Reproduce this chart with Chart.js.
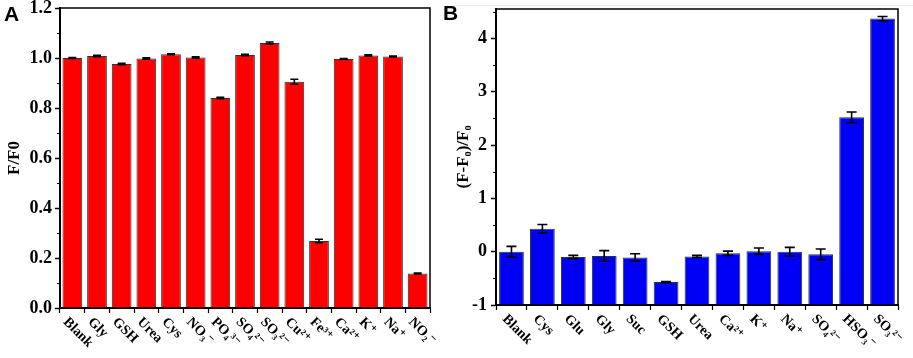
<!DOCTYPE html>
<html lang="en">
<head>
  <meta charset="UTF-8">
  <script src="https://cdn.jsdelivr.net/npm/chart.js"></script>
  <title>Selectivity</title>
  <style>
    body { margin: 0; background: #fff; }
    .wrap { position: relative; width: 913px; height: 358px; overflow: hidden; }
    .panel { position: absolute; top: 0; height: 358px; }
    .tag { position: absolute; font: bold 21px "Liberation Sans", Arial, sans-serif; color: #000; }
    .rule { position: absolute; left: 453px; top: 5px; width: 460px; height: 0; border-top: 1px solid #ececec; }
  </style>
</head>
<body>
  <div class="wrap">
    <div class="rule"></div>
    <div class="panel" style="left: 0; width: 453px;"><canvas id="chartA"></canvas></div>
    <div class="panel" style="left: 453px; width: 460px;"><canvas id="chartB"></canvas></div>
    <div class="tag" style="left: 4px; top: 2px;">A</div>
    <div class="tag" style="left: 443px; top: 1px;">B</div>
  </div>
  <script>
    // panel A: F/F0
    const labelsA = ['Blank', 'Gly', 'GSH', 'Urea', 'Cys', 'NO₃⁻', 'PO₄³⁻', 'SO₄²⁻', 'SO₃²⁻', 'Cu²⁺', 'Fe³⁺', 'Ca²⁺', 'K⁺', 'Na⁺', 'NO₂⁻'];
    const valuesA = [1.000, 1.008, 0.976, 0.998, 1.015, 1.002, 0.840, 1.012, 1.060, 0.905, 0.268, 0.996, 1.010, 1.006, 0.138];
    const errorsA = [0.002, 0.003, 0.003, 0.003, 0.002, 0.003, 0.003, 0.003, 0.004, 0.010, 0.007, 0.002, 0.003, 0.002, 0.002];

    // panel B: (F-F0)/F0
    const labelsB = ['Blank', 'Cys', 'Glu', 'Gly', 'Suc', 'GSH', 'Urea', 'Ca²⁺', 'K⁺', 'Na⁺', 'SO₄²⁻', 'HSO₃⁻', 'SO₃²⁻'];
    const valuesB = [0.00, 0.43, -0.10, -0.08, -0.11, -0.57, -0.09, -0.03, 0.01, 0.00, -0.05, 2.52, 4.37];
    const errorsB = [0.10, 0.08, 0.03, 0.10, 0.07, 0.01, 0.02, 0.04, 0.06, 0.08, 0.10, 0.10, 0.04];

    Chart.defaults.font.family = '"Liberation Serif", "Times New Roman", serif';
    Chart.defaults.font.weight = 'bold';
    Chart.defaults.color = '#000';

    const errorBars = {
      id: 'errorBars',
      afterDatasetsDraw(chart, args, opts) {
        const ctx = chart.ctx, y = chart.scales.y;
        const ds = chart.data.datasets[0];
        const meta = chart.getDatasetMeta(0);
        ctx.save();
        ctx.strokeStyle = '#000';
        ctx.lineWidth = 1.6;
        meta.data.forEach((bar, i) => {
          const top = y.getPixelForValue(ds.data[i] + ds.errors[i]);
          const bot = y.getPixelForValue(ds.data[i] - ds.errors[i]);
          const c = opts.cap;
          ctx.beginPath();
          ctx.moveTo(bar.x, top); ctx.lineTo(bar.x, bot);
          ctx.moveTo(bar.x - c, top); ctx.lineTo(bar.x + c, top);
          ctx.moveTo(bar.x - c, bot); ctx.lineTo(bar.x + c, bot);
          ctx.stroke();
        });
        ctx.restore();
      }
    };

    // frame on top/right, minor y ticks, slanted category labels
    const decor = {
      id: 'decor',
      afterDraw(chart, args, opts) {
        const ctx = chart.ctx, a = chart.chartArea;
        const y = chart.scales.y, x = chart.scales.x;
        ctx.save();
        ctx.strokeStyle = '#000';
        ctx.lineWidth = 1.5;
        ctx.beginPath();
        ctx.moveTo(a.left, a.top); ctx.lineTo(a.right, a.top); ctx.lineTo(a.right, a.bottom);
        ctx.stroke();

        ctx.lineWidth = 1.2;
        ctx.beginPath();
        for (let v = y.min + opts.minor; v < y.max; v += opts.minor * 2) {
          const py = Math.round(y.getPixelForValue(v)) + 0.5;
          ctx.moveTo(a.left, py); ctx.lineTo(a.left - 3, py);
        }
        ctx.stroke();

        ctx.fillStyle = '#000';
        ctx.font = 'bold 14px "Liberation Serif", "DejaVu Serif", serif';
        ctx.textAlign = 'left';
        ctx.textBaseline = 'middle';
        chart.data.labels.forEach((lab, i) => {
          const px = x.getPixelForTick(i);
          ctx.save();
          ctx.translate(px - 7, a.bottom + 12);
          ctx.rotate(Math.PI / 4);
          ctx.fillText(lab, 0, 0);
          ctx.restore();
        });
        ctx.restore();
      }
    };

    function makeChart(id, labels, values, errors, color, yOpts, pad, yWidth, cap, minor, base) {
      const ds = {
        data: values,
        errors: errors,
        backgroundColor: color,
        borderColor: '#2a3535',
        borderWidth: 1,
        barPercentage: 0.8,
        categoryPercentage: 1
      };
      if (base !== undefined) ds.base = base;
      return new Chart(document.getElementById(id), {
        type: 'bar',
        data: { labels: labels, datasets: [ds] },
        plugins: [errorBars, decor],
        options: {
          responsive: true,
          maintainAspectRatio: false,
          animation: false,
          layout: { padding: pad },
          plugins: {
            legend: { display: false },
            tooltip: { enabled: false },
            errorBars: { cap: cap },
            decor: { minor: minor }
          },
          scales: {
            x: {
              grid: { drawOnChartArea: false, offset: true, tickLength: 5, tickWidth: 1.2, tickColor: '#000' },
              border: { color: '#000', width: 2 },
              ticks: { display: false },
              afterFit: s => {
                s.height = 358 - pad.top - yOpts.plotH;
                s.paddingLeft = 0; s.paddingRight = 0;
              }
            },
            y: Object.assign({
              grid: { drawOnChartArea: false, tickLength: 5, tickWidth: 1.5, tickColor: '#000' },
              border: { color: '#000', width: 2 },
              afterFit: s => {
                s.width = yWidth;
                s.paddingTop = 0; s.paddingBottom = 0;
              }
            }, yOpts.scale)
          }
        }
      });
    }

    makeChart('chartA', labelsA, valuesA, errorsA, '#ff0000', {
      plotH: 300,
      scale: {
        min: 0, max: 1.2,
        ticks: { stepSize: 0.2, padding: 3, font: { size: 18 }, callback: v => v.toFixed(1) },
        title: { display: true, text: 'F/F0', font: { size: 17 }, padding: { top: 0, bottom: 0 } }
      }
    }, { top: 8, right: 23, left: 4, bottom: 0 }, 56, 4, 0.1);

    makeChart('chartB', labelsB, valuesB, errorsB, '#0000f5', {
      plotH: 296,
      scale: {
        min: -1, max: 4.55,
        ticks: { stepSize: 1, padding: 4, includeBounds: false, font: { size: 18 } },
        title: { display: true, text: '(F-F₀)/F₀', font: { size: 17 }, padding: { top: 0, bottom: 0 } }
      }
    }, { top: 9, right: 15, left: 0, bottom: 0 }, 43, 5, 0.5, -1);
  </script>
</body>
</html>
